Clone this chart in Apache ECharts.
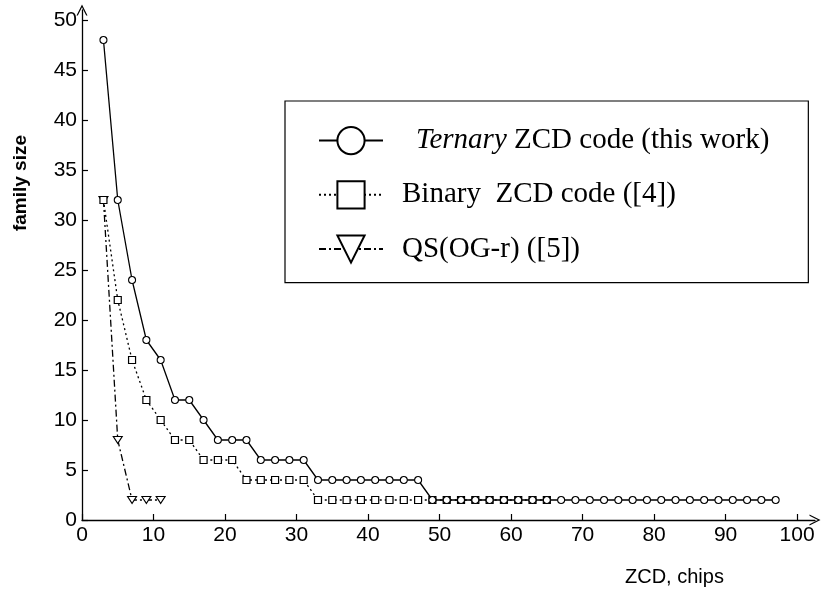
<!DOCTYPE html>
<html>
<head>
<meta charset="utf-8">
<script src="https://cdn.jsdelivr.net/npm/echarts@6/dist/echarts.min.js"></script>
<style>
html,body{margin:0;padding:0;background:#fff;}
#c{width:822px;height:594px;}
</style>
</head>
<body>
<div id="c"></div>
<script>
// ---- data ----
const ternaryX = [3,5,7,9,11,13,15,17,19,21,23,25,27,29,31,33,35,37,39,41,43,45,47,
  49,51,53,55,57,59,61,63,65,67,69,71,73,75,77,79,81,83,85,87,89,91,93,95,97];
const ternaryY = [48,32,24,18,16,12,12,10,8,8,8,6,6,6,6,4,4,4,4,4,4,4,4,
  2,2,2,2,2,2,2,2,2,2,2,2,2,2,2,2,2,2,2,2,2,2,2,2,2];
const binaryX = [3,5,7,9,11,13,15,17,19,21,23,25,27,29,31,
  33,35,37,39,41,43,45,47,49,51,53,55,57,59,61,63,65];
const binaryY = [32,22,16,12,10,8,8,6,6,6,4,4,4,4,4,
  2,2,2,2,2,2,2,2,2,2,2,2,2,2,2,2,2];
const qsX = [3,5,7,9,11];
const qsY = [32,8,2,2,2];
const xTicks = [0,10,20,30,40,50,60,70,80,90,100];
const yTicks = [0,5,10,15,20,25,30,35,40,45,50];
const seriesNames = ['Ternary ZCD code (this work)','Binary  ZCD code ([4])','QS(OG-r) ([5])'];
const xName = 'ZCD, chips';
const yName = 'family size';

const pair = (xs, ys) => xs.map((x, i) => [x, ys[i]]);

const chart = echarts.init(document.getElementById('c'), null, {renderer: 'canvas'});
const sans = 'Liberation Sans';
const serif = 'Liberation Serif';
const arrowPath = 'path://M0,10 L5,0 L10,10 L8.8,10 L5,2.4 L1.2,10 Z';

chart.setOption({
  animation: false,
  backgroundColor: '#fff',
  grid: {left: 82, right: 7, top: 10, bottom: 74, containLabel: false},
  xAxis: {
    type: 'value', min: 0, max: 102.5,
    axisLine: {show: true, lineStyle: {color: '#000', width: 1.3}, symbol: ['none', arrowPath], symbolSize: [11, 14]},
    axisTick: {show: true, inside: true, length: 6, customValues: xTicks, lineStyle: {color: '#000', width: 1.2}},
    axisLabel: {show: true, customValues: xTicks, margin: 5, color: '#000', fontFamily: sans, fontSize: 21},
    splitLine: {show: false}
  },
  yAxis: {
    type: 'value', min: 0, max: 51,
    axisLine: {show: true, lineStyle: {color: '#000', width: 1.3}, symbol: ['none', arrowPath], symbolSize: [11, 14]},
    axisTick: {show: true, inside: true, length: 6, customValues: yTicks, lineStyle: {color: '#000', width: 1.2}},
    axisLabel: {show: true, customValues: yTicks, margin: 5, color: '#000', fontFamily: sans, fontSize: 21},
    splitLine: {show: false}
  },
  legend: {
    orient: 'vertical', left: 285, top: 101,
    padding: [25, 39, 19, 33],
    borderColor: '#000', borderWidth: 1.2,
    itemWidth: 64, itemHeight: 34, itemGap: 25,
    selectedMode: false,
    data: seriesNames,
    formatter: function (n) { return n === seriesNames[0] ? '{i|Ternary} ZCD code (this work)' : n; },
    textStyle: {
      color: '#000', fontFamily: serif, fontSize: 29, padding: [0, 0, 0, 14],
      rich: {i: {fontStyle: 'italic', fontFamily: serif, fontSize: 29, color: '#000', padding: [0, 0, 0, 14]}}
    }
  },
  graphic: [
    {type: 'text', left: 11, top: 135, rotation: Math.PI / 2,
      style: {text: yName, fill: '#000', font: 'bold 19px "Liberation Sans"'}},
    {type: 'text', left: 625, top: 567,
      style: {text: xName, fill: '#000', font: '20px "Liberation Sans"'}}
  ],
  series: [
    {
      name: seriesNames[0], type: 'line', data: pair(ternaryX, ternaryY),
      symbol: 'circle', symbolSize: 7, showSymbol: true,
      lineStyle: {color: '#000', width: 1.3, type: 'solid'},
      itemStyle: {color: '#fff', borderColor: '#000', borderWidth: 1.1},
      emphasis: {disabled: true}, z: 4
    },
    {
      name: seriesNames[1], type: 'line', data: pair(binaryX, binaryY),
      symbol: 'rect', symbolSize: 7,
      lineStyle: {color: '#000', width: 1.3, type: [2, 3]},
      itemStyle: {color: '#fff', borderColor: '#000', borderWidth: 1.2},
      emphasis: {disabled: true}, z: 3
    },
    {
      name: seriesNames[2], type: 'line', data: pair(qsX, qsY),
      symbol: 'path://M0,0 L10,0 L5,8 Z', symbolSize: [9, 7],
      lineStyle: {color: '#000', width: 1.3, type: [7, 3, 2, 3]},
      itemStyle: {color: '#fff', borderColor: '#000', borderWidth: 1.1},
      emphasis: {disabled: true}, z: 2
    }
  ]
});
</script>
</body>
</html>
